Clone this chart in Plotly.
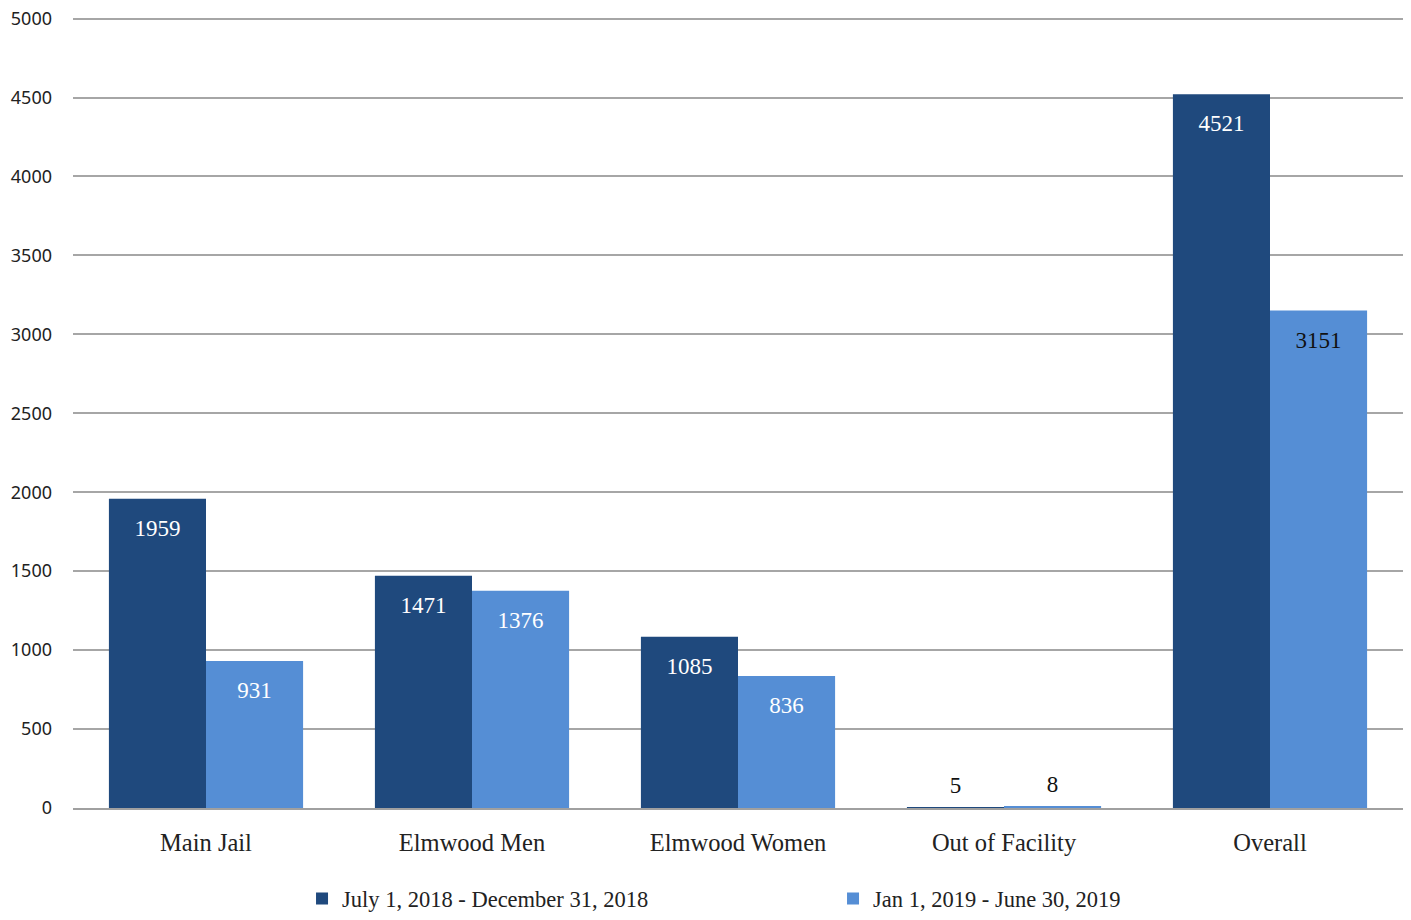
import plotly.graph_objects as go

categories = ["Main Jail", "Elmwood Men", "Elmwood Women", "Out of Facility", "Overall"]
series_names = ["July 1, 2018 - December 31, 2018", "Jan 1, 2019 - June 30, 2019"]
h2_2018 = [1959, 1471, 1085, 5, 4521]
h1_2019 = [931, 1376, 836, 8, 3151]
y_ticks = [0, 500, 1000, 1500, 2000, 2500, 3000, 3500, 4000, 4500, 5000]

dark = "#1F497D"
light = "#558ED5"
serif = "Liberation Serif, DejaVu Serif, serif"
GAP = 0.27

def positions(vals):
    return ["top center" if v < 100 else "bottom center" for v in vals]

def pads(vals):
    return [12 if v < 100 else 30 for v in vals]

def colors(vals, inside_color, special=None):
    out = []
    for v in vals:
        if v < 100 or (special is not None and v == special):
            out.append("#111111")
        else:
            out.append(inside_color)
    return out

fig = go.Figure()
for name, vals, col in [(series_names[0], h2_2018, dark),
                        (series_names[1], h1_2019, light)]:
    fig.add_trace(go.Bar(
        name=name, x=categories, y=vals, marker_color=col, marker_line_width=0,
        hoverinfo="x+y",
    ))
for name, vals, special in [(series_names[0], h2_2018, None),
                            (series_names[1], h1_2019, 3151)]:
    fig.add_trace(go.Scatter(
        name=name, x=categories, y=vals, mode="markers+text",
        marker=dict(size=pads(vals), opacity=0), showlegend=False, hoverinfo="skip",
        text=[str(v) for v in vals], textposition=positions(vals),
        textfont=dict(family=serif, size=23, color=colors(vals, "white", special)),
        cliponaxis=False,
    ))

fig.update_layout(
    width=1395, height=904,
    margin=dict(l=65, r=0, t=9, b=104, autoexpand=False),
    plot_bgcolor="white", paper_bgcolor="white",
    barmode="group", bargap=GAP, bargroupgap=0,
    scattermode="group", scattergap=GAP,
    legend=dict(orientation="h", x=0.1722, xanchor="left", y=-0.115, yanchor="middle",
                font=dict(family=serif, size=22.5, color="#222222"),
                entrywidth=486, entrywidthmode="pixels", itemwidth=30,
                traceorder="normal"),
    showlegend=True,
)
fig.update_xaxes(
    showgrid=False, showline=True, linecolor="#a0a0a0", linewidth=2,
    tickfont=dict(family=serif, size=24.5, color="#222222"), ticks="",
    ticklabelstandoff=12, automargin=False,
)
fig.update_yaxes(
    range=[0, 5010], tickvals=y_ticks, showgrid=True, gridcolor="#a6a6a6", gridwidth=1.5,
    zeroline=False, showline=False, automargin=False, ticklabeloverflow="allow",
    tickfont=dict(family="Noto Sans, Open Sans, sans-serif", size=18, color="#222222"),
    ticklabelstandoff=20,
)

fig.write_html("out.html")
